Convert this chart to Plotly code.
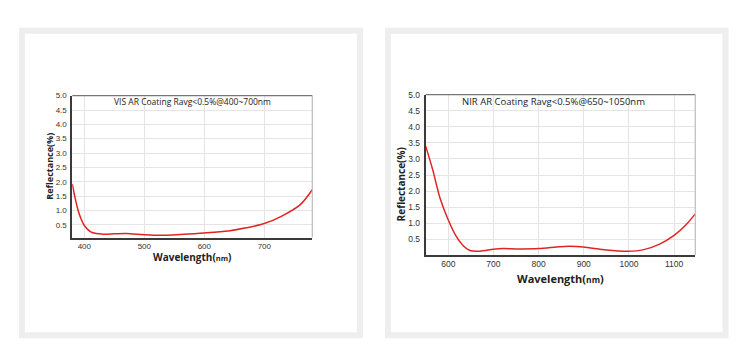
import plotly.graph_objects as go

# Reflectance spectra of two anti-reflection coatings
vis_wavelength = [380, 385, 390, 395, 400, 410, 420, 432, 450, 470, 500, 530, 560, 600,
                  640, 670, 700, 730, 760, 780]
vis_reflectance = [1.92, 1.4, 0.98, 0.68, 0.47, 0.26, 0.19, 0.17, 0.18, 0.19, 0.15, 0.13,
                   0.16, 0.21, 0.28, 0.39, 0.54, 0.81, 1.2, 1.72]

nir_wavelength = [550, 565, 582, 600, 618, 633, 648, 670, 700, 722, 751, 800, 847, 869,
                  899, 950, 998, 1031, 1068, 1100, 1127, 1147]
nir_reflectance = [3.4, 2.69, 1.77, 1.1, 0.58, 0.3, 0.15, 0.13, 0.19, 0.21, 0.2, 0.21,
                   0.27, 0.28, 0.26, 0.17, 0.13, 0.17, 0.35, 0.62, 0.96, 1.29]

y_ticks = [0.5, 1.0, 1.5, 2.0, 2.5, 3.0, 3.5, 4.0, 4.5, 5.0]
vis_x_ticks = [400, 500, 600, 700]
nir_x_ticks = [600, 700, 800, 900, 1000, 1100]

vis_title = "VIS AR Coating Ravg<0.5%@400~700nm"
nir_title = "NIR AR Coating Ravg<0.5%@650~1050nm"
y_title = "<b>Reflectance(%)</b>"
x_title = "<b>Wavelength(<span style='font-size:{}px'>nm</span>)</b>"

W, H = 743, 347
RED = "#e02424"
GRID = "#e4e4e4"
TICKFONT = "Liberation Sans"
TEXTFONT = "Open Sans"


def px(x):
    return x / W


def py(y):
    return 1 - y / H


fig = go.Figure()
fig.add_trace(go.Scatter(x=vis_wavelength, y=vis_reflectance, mode="lines",
                         line=dict(color=RED, width=1.5, shape="spline", smoothing=0.8),
                         xaxis="x", yaxis="y", showlegend=False))
fig.add_trace(go.Scatter(x=nir_wavelength, y=nir_reflectance, mode="lines",
                         line=dict(color=RED, width=1.5, shape="spline", smoothing=0.8),
                         xaxis="x2", yaxis="y2", showlegend=False))

panels = [
    # (x-axis name, y-axis name, x domain px, y domain px, x range, y range, ticks, font size)
    ("xaxis", "yaxis", (72.3, 312.3), (92, 236), [380, 780], [0.05, 5.0], vis_x_ticks, 8),
    ("xaxis2", "yaxis2", (425.7, 695.3), (91, 254), [550, 1147], [0.0, 5.0], nir_x_ticks, 8.5),
]

layout_axes = {}
for i, (xa, ya, (x0, x1), (y0, y1), xr, yr, xt, fs) in enumerate(panels):
    suffix = "" if i == 0 else str(i + 1)
    layout_axes[xa] = dict(
        domain=[px(x0), px(x1)], range=xr, anchor="y" + suffix,
        tickvals=xt, showgrid=True, gridcolor=GRID, gridwidth=1,
        showline=True, linecolor="#3a3a3a", linewidth=1.8, zeroline=False,
        ticks="", tickfont=dict(family=TICKFONT, size=fs, color="#333333"),
        fixedrange=True,
    )
    layout_axes[ya] = dict(
        domain=[py(y1), py(y0)], range=yr, anchor="x" + suffix,
        tickvals=y_ticks, tickformat=".1f", showgrid=True, gridcolor=GRID, gridwidth=1,
        showline=True, linecolor="#3a3a3a", linewidth=1.8, zeroline=False,
        ticks="", tickfont=dict(family=TICKFONT, size=fs, color="#333333"),
        ticklabelstandoff=2, fixedrange=True,
    )

shapes = []
# Light grey card frames around each chart
for (fx0, fx1) in [(22, 360), (388, 725.5)]:
    shapes.append(dict(type="rect", xref="paper", yref="paper",
                       x0=px(fx0), x1=px(fx1), y0=py(335), y1=py(26),
                       line=dict(color="#eeeeee", width=6), fillcolor="rgba(0,0,0,0)",
                       layer="below"))
# Top and right plot borders
for suffix in ["", "2"]:
    shapes.append(dict(type="line", xref=f"x{suffix} domain", yref=f"y{suffix} domain",
                       x0=0, x1=1, y0=1, y1=1, line=dict(color="#777777", width=1.2)))
    shapes.append(dict(type="line", xref=f"x{suffix} domain", yref=f"y{suffix} domain",
                       x0=1, x1=1, y0=0, y1=1, line=dict(color="#bbbbbb", width=1.2)))


def label(text, x, y, size, angle=0):
    return dict(text=text, xref="paper", yref="paper", x=px(x), y=py(y),
                xanchor="center", yanchor="middle", textangle=angle, showarrow=False,
                font=dict(family=TEXTFONT, size=size, color="#222222"))


annotations = [
    label(vis_title, 192, 98, 8.5),
    label(nir_title, 553, 98, 9.5),
    label(y_title, 50, 164, 9, -90),
    label(y_title, 401, 182, 10, -90),
    label(x_title.format(7.5), 192, 256, 10),
    label(x_title.format(8.5), 560, 277, 11),
]

fig.update_layout(
    width=W, height=H, margin=dict(l=0, r=0, t=0, b=0),
    paper_bgcolor="white", plot_bgcolor="white",
    shapes=shapes, annotations=annotations, **layout_axes,
)

fig.write_html("out.html", config={"displayModeBar": False})
